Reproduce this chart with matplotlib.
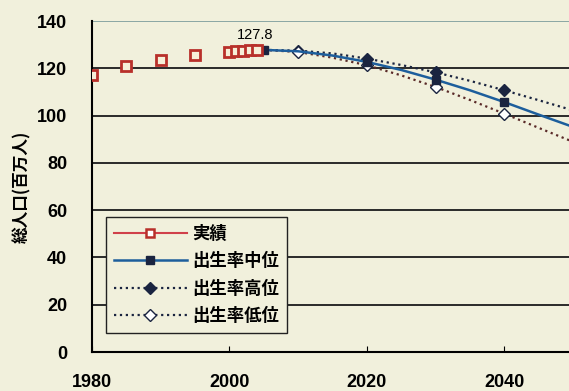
import matplotlib.pyplot as plt
from matplotlib.lines import Line2D

plt.rcParams['font.family'] = ['Liberation Sans', 'Noto Sans CJK JP', 'DejaVu Sans']

# 実績 (actual population, millions)
actual_years = [1980, 1985, 1990, 1995, 2000, 2001, 2002, 2003, 2004]
actual_pop = [117.1, 121.0, 123.6, 125.6, 126.9, 127.3, 127.5, 127.6, 127.7]

# 将来推計 (projections)
proj_years = [2005, 2010, 2015, 2020, 2025, 2030, 2035, 2040, 2045, 2050]
pop_mid = [127.8, 127.2, 125.4, 122.7, 119.3, 115.2, 110.7, 105.7, 100.4, 95.2]
pop_high = [127.8, 127.5, 126.3, 124.1, 121.4, 118.3, 114.7, 110.7, 106.5, 102.2]
pop_low = [127.8, 126.9, 124.5, 121.3, 117.0, 112.1, 106.6, 100.8, 94.8, 88.9]

labels = ['実績', '出生率中位', '出生率高位', '出生率低位']

bg = '#f1f0dc'
red = '#b8302a'
blue = '#1d5e9c'
navy = '#1a2440'

fig = plt.figure(figsize=(5.69, 3.91), dpi=100, facecolor=bg)
ax = fig.add_axes([0.1617, 0.0997, 0.8383, 0.8465], facecolor=bg)

ax.plot(proj_years, pop_high, linestyle=':', color=navy, lw=1.6,
        marker='D', ms=6, mfc=navy, mec=navy, markevery=[1, 3, 5, 7], zorder=3)
ax.plot(proj_years, pop_low, linestyle=':', color='#5a2a28', lw=1.6,
        marker='D', ms=6, mfc='white', mec=navy, markevery=[1, 3, 5, 7], zorder=3)
ax.plot(proj_years, pop_mid, color=blue, lw=1.8,
        marker='s', ms=6, mfc=navy, mec=navy, markevery=[0, 3, 5, 7], zorder=4)
ax.plot(actual_years, actual_pop, linestyle='none', marker='s', ms=6.5,
        mfc='#f6efd8', mec=red, mew=2, zorder=5)

ax.annotate(f'{pop_mid[0]}', (proj_years[0], pop_mid[0]), xytext=(-6, 6),
            textcoords='offset points', ha='center', va='bottom', fontsize=10.5)

ax.set_xlim(1980, 2049.4)
ax.set_ylim(0, 140)
ax.set_yticks(range(0, 141, 20))
ax.set_xticks([1980, 2000, 2020, 2040])
ax.tick_params(axis='x', direction='in', length=4, pad=16, labelsize=13)
ax.tick_params(axis='y', length=0, pad=18, labelsize=13)
for t in ax.get_xticklabels() + ax.get_yticklabels():
    t.set_fontweight('bold')

for v in range(20, 121, 20):
    ax.axhline(v, color='#2a2a2a', lw=1.4, zorder=1)
ax.axhline(140, color='#7a9a9a', lw=1.2, zorder=1)

ax.spines['right'].set_visible(False)
ax.spines['top'].set_visible(False)
ax.spines['left'].set_linewidth(1.5)
ax.spines['bottom'].set_linewidth(1.5)

ax.set_ylabel('総人口(百万人)', fontsize=12, fontweight='bold',
              family=['Noto Sans CJK JP'], labelpad=4)

handles = [
    Line2D([], [], color='#d0404a', lw=1.5, marker='s', ms=6, mfc='white', mec=red, mew=1.8),
    Line2D([], [], color=blue, lw=1.8, marker='s', ms=6, mfc=navy, mec=navy),
    Line2D([], [], color=navy, lw=1.6, linestyle=':', marker='D', ms=6, mfc=navy, mec=navy),
    Line2D([], [], color=navy, lw=1.6, linestyle=':', marker='D', ms=6, mfc='white', mec=navy),
]
leg = ax.legend(handles, labels, loc='lower left', bbox_to_anchor=(0.029, 0.057),
                prop={'family': 'Noto Sans CJK JP', 'weight': 'bold', 'size': 12.5},
                frameon=True, fancybox=False, edgecolor='#222222', facecolor=bg,
                framealpha=1, handlelength=4.2, handletextpad=0.35,
                labelspacing=0.55, borderpad=0.45, borderaxespad=0)
leg.get_frame().set_linewidth(1.0)

fig.savefig('out.png', dpi=100, facecolor=bg)
